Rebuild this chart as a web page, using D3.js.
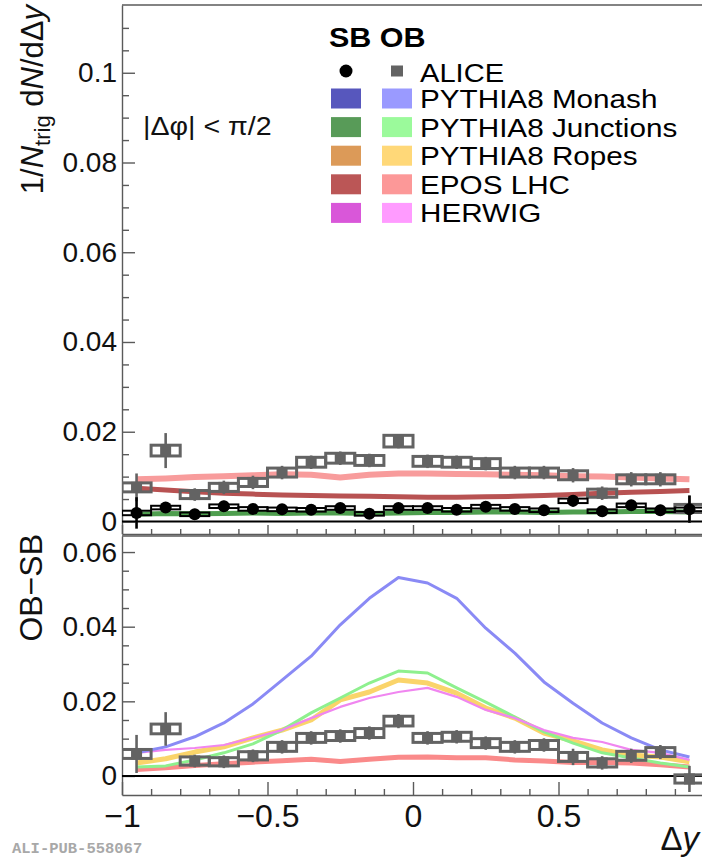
<!DOCTYPE html>
<html>
<head>
<meta charset="utf-8">
<script src="https://cdn.jsdelivr.net/npm/d3@7"></script>
<style>
  body { margin: 0; background: #fff; }
  svg text { font-family: "Liberation Sans", Arial, Helvetica, sans-serif; }
</style>
</head>
<body>
<svg id="chart" width="702" height="857"></svg>
<script>
// Δy bin centres (bin width 0.1)
const binCenters = [-0.95, -0.85, -0.75, -0.65, -0.55, -0.45, -0.35, -0.25, -0.15, -0.05,
                     0.05,  0.15,  0.25,  0.35,  0.45,  0.55,  0.65,  0.75,  0.85,  0.95];
const binWidth = 0.1;

// Upper panel: per-trigger yields, same-baryon-number (SB) and opposite (OB)
const sbAlice     = [0.0019, 0.0031, 0.0016, 0.0034, 0.0028, 0.0027, 0.0026, 0.0030, 0.0017, 0.0030,
                     0.0030, 0.0026, 0.0033, 0.0028, 0.0025, 0.0046, 0.0023, 0.0036, 0.0025, 0.0027];
const sbAliceStat = [0.0035, 0.0012, 0.0012, 0.0012, 0.0010, 0.0010, 0.0010, 0.0010, 0.0010, 0.0010,
                     0.0010, 0.0010, 0.0010, 0.0010, 0.0010, 0.0013, 0.0012, 0.0012, 0.0012, 0.0030];
const sbAliceSys  = [0.0005, 0.0004, 0.0004, 0.0004, 0.0004, 0.0004, 0.0004, 0.0004, 0.0004, 0.0004,
                     0.0004, 0.0004, 0.0004, 0.0004, 0.0004, 0.0005, 0.0004, 0.0004, 0.0004, 0.0004];
const obAlice     = [0.0076, 0.0158, 0.0060, 0.0076, 0.0087, 0.0109, 0.0132, 0.0141, 0.0136, 0.0179,
                     0.0134, 0.0132, 0.0129, 0.0109, 0.0109, 0.0103, 0.0063, 0.0094, 0.0094, 0.0029];
const obAliceStat = [0.0031, 0.0039, 0.0014, 0.0015, 0.0015, 0.0015, 0.0015, 0.0015, 0.0015, 0.0016,
                     0.0015, 0.0015, 0.0015, 0.0015, 0.0015, 0.0016, 0.0015, 0.0016, 0.0016, 0.0030];
const obAliceSys  = [0.0010, 0.0012, 0.0009, 0.0009, 0.0009, 0.0010, 0.0011, 0.0011, 0.0011, 0.0013,
                     0.0011, 0.0011, 0.0011, 0.0010, 0.0010, 0.0010, 0.0009, 0.0010, 0.0010, 0.0009];
const eposOB      = [0.0094, 0.0096, 0.0099, 0.0101, 0.0103, 0.0105, 0.0104, 0.0098, 0.0104, 0.0107,
                     0.0107, 0.0106, 0.0105, 0.0104, 0.0103, 0.0101, 0.0100, 0.0098, 0.0096, 0.0094];
const eposSB      = [0.0074, 0.0070, 0.0066, 0.0063, 0.0061, 0.0059, 0.0058, 0.0057, 0.0056, 0.0055,
                     0.0054, 0.0054, 0.0055, 0.0056, 0.0058, 0.0060, 0.0063, 0.0065, 0.0067, 0.0069];
const junctionsSB = [0.0016, 0.0018, 0.0017, 0.0018, 0.0019, 0.0018, 0.0019, 0.0019, 0.0018, 0.0019,
                     0.0020, 0.0020, 0.0021, 0.0021, 0.0020, 0.0021, 0.0021, 0.0022, 0.0022, 0.0021];

// Lower panel: OB − SB
const diffAlice     = [0.0059, 0.0126, 0.0040, 0.0038, 0.0054, 0.0078, 0.0102, 0.0107, 0.0115, 0.0147,
                       0.0102, 0.0105, 0.0088, 0.0078, 0.0083, 0.0051, 0.0035, 0.0054, 0.0064, -0.0008];
const diffAliceStat = [0.0051, 0.0045, 0.0017, 0.0017, 0.0017, 0.0018, 0.0018, 0.0018, 0.0018, 0.0019,
                       0.0018, 0.0018, 0.0018, 0.0018, 0.0018, 0.0022, 0.0018, 0.0019, 0.0019, 0.0035];
const diffAliceSys  = [0.0012, 0.0013, 0.0011, 0.0011, 0.0011, 0.0012, 0.0012, 0.0012, 0.0012, 0.0013,
                       0.0012, 0.0012, 0.0012, 0.0012, 0.0012, 0.0012, 0.0011, 0.0012, 0.0012, 0.0011];
const diffMonash    = [0.0062, 0.0078, 0.0105, 0.0142, 0.0193, 0.0257, 0.0321, 0.0405, 0.0476, 0.0532,
                       0.0517, 0.0476, 0.0396, 0.0329, 0.0252, 0.0195, 0.0142, 0.0102, 0.0070, 0.0051];
const diffJunctions = [0.0024, 0.0027, 0.0043, 0.0062, 0.0086, 0.0123, 0.0169, 0.0209, 0.0249, 0.0281,
                       0.0276, 0.0236, 0.0198, 0.0158, 0.0118, 0.0088, 0.0062, 0.0048, 0.0035, 0.0024];
const diffRopes     = [0.0035, 0.0046, 0.0064, 0.0078, 0.0102, 0.0123, 0.0150, 0.0204, 0.0225, 0.0257,
                       0.0249, 0.0222, 0.0182, 0.0155, 0.0115, 0.0094, 0.0070, 0.0056, 0.0051, 0.0038];
const diffHerwig    = [0.0062, 0.0070, 0.0075, 0.0083, 0.0102, 0.0123, 0.0155, 0.0185, 0.0209, 0.0225,
                       0.0236, 0.0212, 0.0177, 0.0155, 0.0123, 0.0102, 0.0091, 0.0070, 0.0062, 0.0043];
const diffEpos      = [0.0017, 0.0022, 0.0028, 0.0033, 0.0037, 0.0041, 0.0045, 0.0039, 0.0045, 0.0050,
                       0.0051, 0.0049, 0.0049, 0.0043, 0.0040, 0.0036, 0.0036, 0.0035, 0.0030, 0.0024];

// Axis ticks and labels
const xMajorTicks   = [-1, -0.5, 0, 0.5, 1];
const xTickLabels   = ["\u22121", "\u22120.5", "0", "0.5", ""];
const xMinorTicks   = [-0.9, -0.8, -0.7, -0.6, -0.4, -0.3, -0.2, -0.1, 0.1, 0.2, 0.3, 0.4, 0.6, 0.7, 0.8, 0.9];
const topYTicks     = [0, 0.02, 0.04, 0.06, 0.08, 0.1];
const topYLabels    = ["0", "0.02", "0.04", "0.06", "0.08", "0.1"];
const topYMinor     = [0.005, 0.01, 0.015, 0.025, 0.03, 0.035, 0.045, 0.05, 0.055, 0.065, 0.07, 0.075,
                       0.085, 0.09, 0.095, 0.105, 0.11];
const botYTicks     = [0, 0.02, 0.04, 0.06];
const botYLabels    = ["0", "0.02", "0.04", "0.06"];
const botYMinor     = [0.005, 0.01, 0.015, 0.025, 0.03, 0.035, 0.045, 0.05, 0.055];

// Legend
const legendNames    = ["PYTHIA8 Monash", "PYTHIA8 Junctions", "PYTHIA8 Ropes", "EPOS LHC", "HERWIG"];
const legendSBColors = ["#5757bd", "#589b58", "#dc9a58", "#bb5656", "#d957d9"];
const legendOBColors = ["#9a9aff", "#9bfa9b", "#ffd878", "#fc9898", "#ff9bff"];

const svg = d3.select("#chart");
const axisColor = "#5a5a5a";

const x    = d3.scaleLinear().domain([-1, 1]).range([122, 704]);
const yTop = d3.scaleLinear().domain([-0.00279, 0.1151]).range([534, 5]);
const yBot = d3.scaleLinear().domain([-0.0051, 0.0643]).range([795, 536]);

// clip paths for the two pads
const defs = svg.append("defs");
defs.append("clipPath").attr("id", "clipTop").append("rect")
  .attr("x", x(-1)).attr("y", yTop.range()[1]).attr("width", x(1) - x(-1)).attr("height", yTop.range()[0] - yTop.range()[1]);
defs.append("clipPath").attr("id", "clipBot").append("rect")
  .attr("x", x(-1)).attr("y", yBot.range()[1]).attr("width", x(1) - x(-1)).attr("height", yBot.range()[0] - yBot.range()[1]);

function styleAxis(g) {
  g.selectAll("path.domain").attr("stroke", axisColor).attr("stroke-width", 1.4);
  g.selectAll(".tick line").attr("stroke", axisColor).attr("stroke-width", 1.4);
  g.selectAll(".tick text").attr("fill", "#111")
    .style("font-family", "'Liberation Sans', Arial, Helvetica, sans-serif");
}

function drawFrame(yScale, showXLabels, xMajorLen, xMinorLen) {
  const [yb, yt] = yScale.range();
  // top + right frame lines
  svg.append("line").attr("x1", x(-1)).attr("x2", x(1)).attr("y1", yt).attr("y2", yt)
    .attr("stroke", axisColor).attr("stroke-width", 1.4);
  svg.append("line").attr("x1", x(1)).attr("x2", x(1)).attr("y1", yt).attr("y2", yb)
    .attr("stroke", axisColor).attr("stroke-width", 1.4);

  const xa = svg.append("g").attr("transform", `translate(0,${yb})`)
    .call(d3.axisBottom(x).tickValues(xMajorTicks).tickSize(-xMajorLen).tickSizeOuter(0)
      .tickPadding(14)
      .tickFormat((d, i) => showXLabels ? xTickLabels[i] : ""));
  styleAxis(xa);
  xa.selectAll(".tick text").attr("font-size", 32).attr("dy", "0.55em");
  const xm = svg.append("g").attr("transform", `translate(0,${yb})`)
    .call(d3.axisBottom(x).tickValues(xMinorTicks).tickSize(-xMinorLen).tickSizeOuter(0).tickFormat(""));
  styleAxis(xm);
  xm.select("path.domain").remove();
}

function drawYAxis(yScale, ticks, labels, minor) {
  const ya = svg.append("g").attr("transform", `translate(${x(-1)},0)`)
    .call(d3.axisLeft(yScale).tickValues(ticks).tickSize(-13).tickSizeOuter(0).tickPadding(5)
      .tickFormat((d, i) => labels[i]));
  styleAxis(ya);
  ya.selectAll(".tick text").attr("font-size", 28);
  const ym = svg.append("g").attr("transform", `translate(${x(-1)},0)`)
    .call(d3.axisLeft(yScale).tickValues(minor).tickSize(-7).tickSizeOuter(0).tickFormat(""));
  styleAxis(ym);
  ym.select("path.domain").remove();
}

function drawCurve(layer, yScale, values, color, width) {
  const line = d3.line().x((d, i) => x(binCenters[i])).y(d => yScale(d));
  layer.append("path").datum(values).attr("d", line)
    .attr("fill", "none").attr("stroke", color).attr("stroke-width", width)
    .attr("stroke-linejoin", "round");
}

function drawData(layer, yScale, values, stat, sys, color, marker, boxWidth) {
  const w = x(binWidth) - x(0);
  const g = layer.append("g");
  // systematic boxes
  g.selectAll("rect.sys").data(values).join("rect").attr("class", "sys")
    .attr("x", (d, i) => x(binCenters[i]) - w / 2)
    .attr("width", w)
    .attr("y", (d, i) => yScale(d + sys[i]))
    .attr("height", (d, i) => yScale(d - sys[i]) - yScale(d + sys[i]))
    .attr("fill", "none").attr("stroke", color).attr("stroke-width", boxWidth);
  // statistical bars
  g.selectAll("line.stat").data(values).join("line").attr("class", "stat")
    .attr("x1", (d, i) => x(binCenters[i])).attr("x2", (d, i) => x(binCenters[i]))
    .attr("y1", (d, i) => yScale(d - stat[i])).attr("y2", (d, i) => yScale(d + stat[i]))
    .attr("stroke", color).attr("stroke-width", 2.6);
  if (marker === "circle") {
    g.selectAll("circle").data(values).join("circle")
      .attr("cx", (d, i) => x(binCenters[i])).attr("cy", d => yScale(d)).attr("r", 6)
      .attr("fill", color);
  } else {
    const s = 11;
    g.selectAll("rect.mk").data(values).join("rect").attr("class", "mk")
      .attr("x", (d, i) => x(binCenters[i]) - s / 2).attr("y", d => yScale(d) - s / 2)
      .attr("width", s).attr("height", s).attr("fill", color);
  }
}

// ---------- upper pad ----------
drawFrame(yTop, false, 9, 5);
drawYAxis(yTop, topYTicks, topYLabels, topYMinor);
const topPad = svg.append("g").attr("clip-path", "url(#clipTop)");
topPad.append("line").attr("x1", x(-1)).attr("x2", x(1)).attr("y1", yTop(0)).attr("y2", yTop(0))
  .attr("stroke", "#000").attr("stroke-width", 2);
drawCurve(topPad, yTop, eposOB, "#f89c9c", 6);
drawCurve(topPad, yTop, eposSB, "#b85252", 5);
drawCurve(topPad, yTop, junctionsSB, "#4e9e4e", 5);
drawData(topPad, yTop, obAlice, obAliceStat, obAliceSys, "#636363", "square", 3);
drawData(topPad, yTop, sbAlice, sbAliceStat, sbAliceSys, "#000", "circle", 2);

// ---------- lower pad ----------
drawFrame(yBot, true, 13, 6);
drawYAxis(yBot, botYTicks, botYLabels, botYMinor);
const botPad = svg.append("g").attr("clip-path", "url(#clipBot)");
botPad.append("line").attr("x1", x(-1)).attr("x2", x(1)).attr("y1", yBot(0)).attr("y2", yBot(0))
  .attr("stroke", "#000").attr("stroke-width", 2);
drawCurve(botPad, yBot, diffEpos, "#fa8a8a", 5);
drawCurve(botPad, yBot, diffRopes, "#fad46a", 5);
drawCurve(botPad, yBot, diffJunctions, "#8ef08e", 3);
drawCurve(botPad, yBot, diffHerwig, "#f086f0", 2.2);
drawCurve(botPad, yBot, diffMonash, "#8a8af5", 3);
drawData(botPad, yBot, diffAlice, diffAliceStat, diffAliceSys, "#636363", "square", 3);

// ---------- texts ----------
const yTitle = svg.append("text").attr("transform", "translate(43,5) rotate(-90)")
  .attr("text-anchor", "end").attr("font-size", 31).attr("fill", "#111");
yTitle.append("tspan").text("1/");
yTitle.append("tspan").attr("font-style", "italic").text("N");
yTitle.append("tspan").attr("font-size", 22).attr("dy", 7).text("trig");
yTitle.append("tspan").attr("dy", -7).text(" d");
yTitle.append("tspan").attr("font-style", "italic").text("N");
yTitle.append("tspan").text("/d\u0394");
yTitle.append("tspan").attr("font-style", "italic").text("y");

svg.append("text").attr("transform", "translate(42,534) rotate(-90)")
  .attr("text-anchor", "end").attr("font-size", 32).attr("fill", "#111").text("OB\u2212SB");

const xTitle = svg.append("text").attr("x", 699).attr("y", 850).attr("text-anchor", "end")
  .attr("font-size", 33).attr("fill", "#111");
xTitle.append("tspan").text("\u0394");
xTitle.append("tspan").attr("font-style", "italic").text("y");

svg.append("text").attr("transform", "translate(143,135) scale(1.1,1)")
  .attr("font-size", 26).attr("fill", "#111")
  .text("|\u0394\u03c6| < \u03c0/2");

svg.append("text").attr("x", 12).attr("y", 853).attr("font-size", 15.5).attr("font-weight", "bold")
  .attr("fill", "#a8a8a8").style("font-family", "'Liberation Mono', 'Courier New', monospace")
  .text("ALI-PUB-558067");

// ---------- legend ----------
const leg = svg.append("g");
const stretch = 1.12;
leg.append("text").attr("transform", `translate(329,47) scale(1.09,1)`)
  .attr("font-size", 28).attr("font-weight", "bold").attr("fill", "#000").text("SB OB");
const rowStep = 28.6;
const aliceRowY = 71;
leg.append("circle").attr("cx", 346).attr("cy", aliceRowY).attr("r", 6.5).attr("fill", "#000");
leg.append("rect").attr("x", 391).attr("y", aliceRowY - 5.5).attr("width", 12).attr("height", 11).attr("fill", "#636363");
leg.append("text").attr("transform", `translate(420,82) scale(${stretch},1)`)
  .attr("font-size", 26).attr("fill", "#000").text("ALICE");
legendNames.forEach((name, i) => {
  const cy = 98.5 + i * rowStep;
  leg.append("rect").attr("x", 331).attr("y", cy - 10).attr("width", 30).attr("height", 20).attr("fill", legendSBColors[i]);
  leg.append("rect").attr("x", 382).attr("y", cy - 10).attr("width", 30).attr("height", 20).attr("fill", legendOBColors[i]);
  leg.append("text").attr("transform", `translate(420,${cy + 9.5}) scale(${stretch},1)`)
    .attr("font-size", 26.5).attr("fill", "#000").text(name);
});
</script>
</body>
</html>
